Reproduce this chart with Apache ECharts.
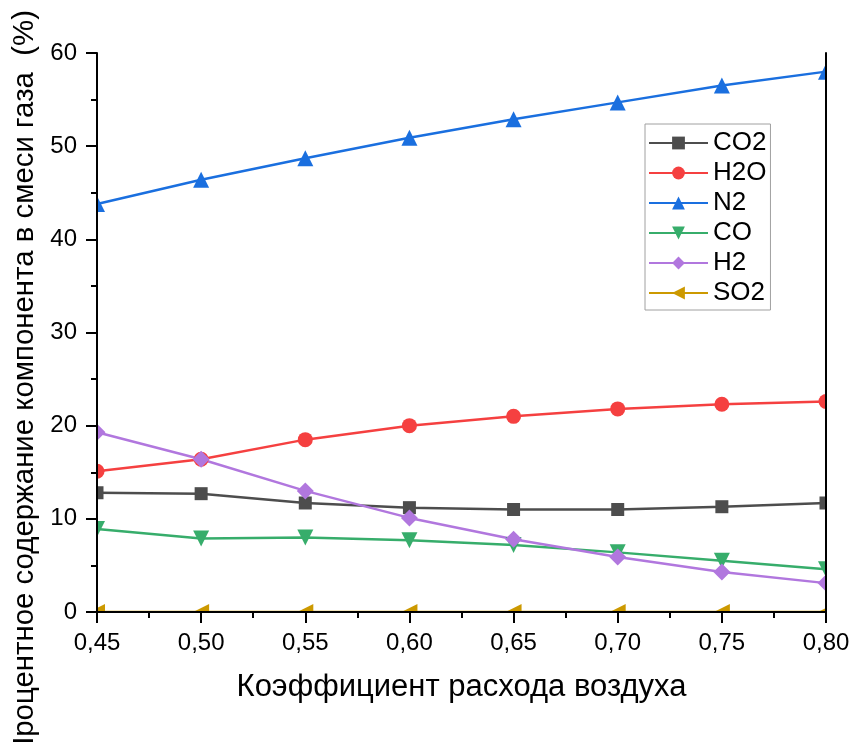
<!DOCTYPE html>
<html>
<head>
<meta charset="utf-8">
<script src="https://cdn.jsdelivr.net/npm/echarts@6/dist/echarts.min.js"></script>
<style>
html,body{margin:0;padding:0;background:#fff;}
#c{width:855px;height:742px;}
</style>
</head>
<body>
<div id="c"></div>
<script>
const xValues = [0.45, 0.50, 0.55, 0.60, 0.65, 0.70, 0.75, 0.80];
const co2 = [12.8, 12.7, 11.7, 11.2, 11.0, 11.0, 11.3, 11.7];
const h2o = [15.1, 16.4, 18.5, 20.0, 21.0, 21.8, 22.3, 22.6];
const n2  = [43.8, 46.4, 48.7, 50.9, 52.9, 54.7, 56.5, 58.0];
const co  = [8.9, 7.9, 8.0, 7.7, 7.2, 6.4, 5.5, 4.6];
const h2  = [19.3, 16.4, 13.0, 10.1, 7.8, 5.9, 4.3, 3.1];
const so2 = [0, 0, 0, 0, 0, 0, 0, 0];
const seriesNames = ['CO2', 'H2O', 'N2', 'CO', 'H2', 'SO2'];
const xTitle = 'Коэффициент расхода воздуха';
const yTitle = 'Процентное содержание компонента в смеси газа  (%)';

const FONT = '"Liberation Sans", Arial, sans-serif';
const G = {left: 97, top: 53, width: 729, height: 559};

function pairs(arr) { return xValues.map((x, i) => [x, arr[i]]); }
function mk(name, data, color, symbol, size, rot) {
  return {
    name: name, type: 'line', data: pairs(data),
    symbol: symbol, symbolSize: size, symbolRotate: rot || 0,
    clip: false,
    lineStyle: {width: 2.5, color: color},
    itemStyle: {color: color},
    emphasis: {disabled: true}, z: 2
  };
}

const chart = echarts.init(document.getElementById('c'), null, {renderer: 'canvas'});
const axisCommon = {
  axisLine: {show: true, lineStyle: {color: '#000', width: 2}},
  splitLine: {show: false}
};
chart.setOption({
  animation: false,
  backgroundColor: '#fff',
  textStyle: {fontFamily: FONT},
  grid: {left: G.left, top: G.top, width: G.width, height: G.height, containLabel: false},
  legend: {
    left: 645, top: 124, orient: 'vertical',
    data: seriesNames,
    itemWidth: 59, itemHeight: 16, itemGap: 4,
    padding: [6, 4, 4, 3],
    borderColor: '#a0a0a0', borderWidth: 1,
    textStyle: {fontSize: 26, fontFamily: FONT, color: '#000'},
    backgroundColor: '#fff'
  },
  xAxis: [{
    type: 'value', min: 0.45, max: 0.80, interval: 0.05, position: 'bottom', z: 10,
    ...axisCommon,
    axisTick: {show: true, inside: false, length: 11, lineStyle: {color: '#000', width: 2}},
    minorTick: {show: true, splitNumber: 2, length: 6, lineStyle: {color: '#000', width: 2}},
    axisLabel: {fontSize: 24, color: '#000', margin: 19, fontFamily: FONT,
      formatter: v => v.toFixed(2).replace('.', ',')},
    name: xTitle, nameLocation: 'middle', nameGap: 60,
    nameTextStyle: {fontSize: 31, color: '#000', fontFamily: FONT}
  }, {
    type: 'value', min: 0.45, max: 0.80, position: 'top', z: 10,
    ...axisCommon, axisTick: {show: false}, axisLabel: {show: false}
  }],
  yAxis: [{
    type: 'value', min: 0, max: 60, interval: 10, position: 'left', z: 10,
    ...axisCommon,
    axisTick: {show: true, inside: false, length: 11, lineStyle: {color: '#000', width: 2}},
    minorTick: {show: true, splitNumber: 2, length: 6, lineStyle: {color: '#000', width: 2}},
    axisLabel: {fontSize: 24, color: '#000', margin: 20, fontFamily: FONT}
  }, {
    type: 'value', min: 0, max: 60, position: 'right', z: 10,
    ...axisCommon, axisTick: {show: false}, axisLabel: {show: false}
  }],
  graphic: [
    {type: 'rect', z: 5, silent: true, shape: {x: 0, y: G.top + G.height, width: 855, height: 742 - G.top - G.height}, style: {fill: '#fff'}},
    {type: 'rect', z: 5, silent: true, shape: {x: G.left + G.width, y: 0, width: 855 - G.left - G.width, height: 742}, style: {fill: '#fff'}},
    {type: 'rect', z: 5, silent: true, shape: {x: 0, y: 0, width: 855, height: G.top}, style: {fill: '#fff'}},
    {type: 'rect', z: 5, silent: true, shape: {x: 0, y: 0, width: G.left, height: 742}, style: {fill: '#fff'}},
    {type: 'text', z: 11, silent: true, x: 25, y: 10, rotation: Math.PI / 2,
      style: {text: yTitle, fontSize: 29.4, fontFamily: FONT, fill: '#000', textAlign: 'right', textVerticalAlign: 'middle'}}
  ],
  series: [
    mk('CO2', co2, '#4d4d4d', 'rect', 13),
    mk('H2O', h2o, '#f54040', 'circle', 15),
    mk('N2', n2, '#1a6fdf', 'triangle', 16),
    mk('CO', co, '#37ad6b', 'triangle', 16, 180),
    mk('H2', h2, '#b177de', 'diamond', 17),
    mk('SO2', so2, '#cc9900', 'triangle', 16, 90)
  ]
});
</script>
</body>
</html>
